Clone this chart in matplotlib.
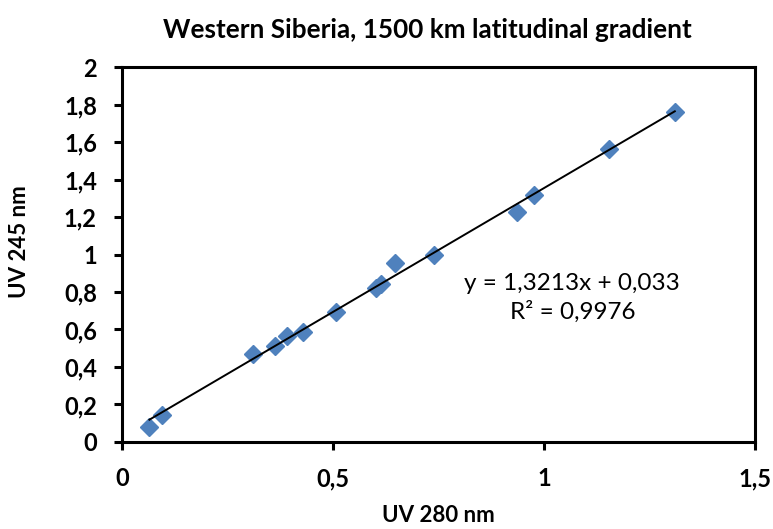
import matplotlib
matplotlib.use("Agg")
import matplotlib.pyplot as plt
import numpy as np
from matplotlib.ticker import FuncFormatter

uv280 = [0.065, 0.094, 0.310, 0.363, 0.390, 0.428, 0.506, 0.602, 0.614, 0.648, 0.740, 0.937, 0.977, 1.155, 1.310]
uv245 = [0.082, 0.144, 0.468, 0.514, 0.567, 0.588, 0.695, 0.821, 0.843, 0.953, 0.997, 1.228, 1.317, 1.561, 1.762]
slope = 1.3213
intercept = 0.033
title = "Western Siberia, 1500 km latitudinal gradient"
eq_text = "y = 1,3213x + 0,033\nR² = 0,9976"
x_ticks = [0, 0.5, 1, 1.5]
y_ticks = [0, 0.2, 0.4, 0.6, 0.8, 1.0, 1.2, 1.4, 1.6, 1.8, 2.0]

plt.rcParams['font.family'] = ['Lato', 'DejaVu Sans']

fig = plt.figure(figsize=(7.73, 5.29), dpi=100)
ax = fig.add_axes([0.1578, 0.1645, 0.8189, 0.7088])

ax.plot(uv280, uv245, linestyle='none', marker='D', ms=9, color='#4F81BD', zorder=2)
xs = np.array([min(uv280), max(uv280)])
ax.plot(xs, slope * xs + intercept, color='black', lw=1.4, zorder=3)

ax.set_xlim(0, 1.5)
ax.set_ylim(0, 2)
ax.set_xticks(x_ticks)
ax.set_yticks(y_ticks)
fmt = FuncFormatter(lambda v, p: ('%g' % round(v, 2)).replace('.', ','))
ax.xaxis.set_major_formatter(fmt)
ax.yaxis.set_major_formatter(fmt)
ax.tick_params(axis='both', direction='out', length=6, width=2.2, labelsize=17, pad=12)
for lab in ax.get_xticklabels() + ax.get_yticklabels():
    lab.set_fontweight('bold')
for s in ax.spines.values():
    s.set_linewidth(2.2)

ax.set_title(title, fontsize=18.8, fontweight='bold', pad=21, x=0.483)
fig.text(438 / 773, 7 / 529, "UV 280 nm", fontsize=16, fontweight='bold', ha='center', va='baseline')
fig.text(20 / 773, 1 - 242 / 529, "UV 245 nm", fontsize=16, fontweight='bold', ha='center', va='center', rotation=90)

ax.text(1.067, 0.768, eq_text, fontsize=17.5, ha='center', va='center', multialignment='center',
        linespacing=1.35, transform=ax.transData)

fig.savefig("out.png", dpi=100)
